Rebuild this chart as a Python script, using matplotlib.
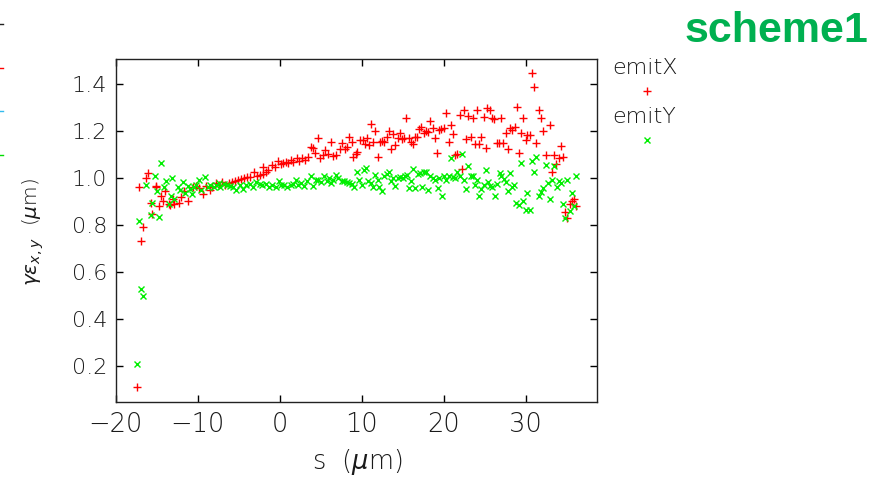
import matplotlib
matplotlib.use("Agg")
import matplotlib.pyplot as plt
from matplotlib.lines import Line2D

# ---- data: emitX (red +) ----
emitx_s = [-17.35, -17.11, -16.91, -16.62, -16.29, -16.05, -15.68, -15.52, -15.11, -15.03,
           -14.66, -14.46, -14.25, -13.93, -13.56, -13.36, -13.03, -12.83, -12.34, -12.05,
           -11.64, -11.23, -10.58, -10.17, -9.89, -9.36, -8.95, -8.54, -8.26, -7.73,
           -7.44, -7.03, -6.62, -6.22, -5.81, -5.40, -5.07, -4.71, -4.30, -3.97,
           -3.56, -3.16, -2.75, -2.42, -2.01, -2.05, -1.69, -1.40, -0.99, -0.63,
           -0.22, 0.11, 0.43, 0.80, 1.01, 1.37, 1.62, 2.07, 2.39, 2.76,
           3.05, 3.45, 3.78, 4.07, 4.35, 4.68, 4.92, 5.33, 5.53, 5.90,
           6.23, 6.55, 6.92, 7.37, 7.66, 7.94, 8.27, 8.47, 8.76, 9.00,
           9.29, 9.49, 9.82, 10.11, 10.39, 10.64, 10.92, 11.13, 11.41, 11.62,
           11.94, 12.27, 12.43, 12.76, 13.04, 13.29, 13.57, 13.78, 14.10, 14.39,
           14.63, 14.88, 15.12, 15.45, 15.74, 16.02, 16.23, 16.51, 16.76, 17.04,
           17.25, 17.57, 17.86, 18.14, 18.39, 18.67, 18.96, 19.20, 19.49, 19.69,
           20.02, 20.31, 20.59, 20.84, 21.12, 21.41, 21.65, 21.94, 22.22, 22.47,
           22.71, 23.00, 23.28, 23.57, 23.77, 24.06, 24.30, 24.59, 24.88, 25.12,
           25.32, 25.61, 25.90, 26.14, 26.47, 26.75, 27.04, 27.28, 27.57, 27.85,
           28.10, 28.38, 28.67, 28.91, 29.16, 29.49, 29.73, 29.98, 30.22, 30.51,
           30.75, 31.04, 31.32, 31.61, 31.85, 32.14, 32.42, 32.95, 33.16, 33.48,
           33.73, 34.01, 34.26, 34.55, 34.79, 35.08, 35.36, 35.61, 35.85, 36.14]
emitx_v = [0.111, 0.961, 0.730, 0.791, 1.000, 1.021, 0.894, 0.847, 0.964, 0.968,
           0.883, 0.925, 0.904, 0.943, 0.891, 0.886, 0.911, 0.891, 0.894, 0.918,
           0.943, 0.904, 0.964, 0.968, 0.957, 0.932, 0.968, 0.950, 0.964, 0.979,
           0.972, 0.982, 0.972, 0.979, 0.982, 0.986, 0.993, 0.996, 1.000, 1.004,
           1.004, 1.025, 1.010, 1.014, 1.018, 1.047, 1.028, 1.035, 1.057, 1.047,
           1.075, 1.061, 1.064, 1.067, 1.064, 1.078, 1.067, 1.084, 1.075, 1.085,
           1.078, 1.092, 1.131, 1.128, 1.109, 1.170, 1.085, 1.099, 1.120, 1.103,
           1.154, 1.095, 1.099, 1.123, 1.149, 1.126, 1.131, 1.175, 1.156, 1.092,
           1.103, 1.113, 1.163, 1.163, 1.146, 1.170, 1.142, 1.231, 1.156, 1.202,
           1.089, 1.156, 1.160, 1.152, 1.177, 1.202, 1.123, 1.188, 1.142, 1.170,
           1.191, 1.166, 1.170, 1.255, 1.170, 1.152, 1.146, 1.175, 1.175, 1.208,
           1.220, 1.194, 1.202, 1.198, 1.244, 1.213, 1.173, 1.106, 1.206, 1.208,
           1.213, 1.276, 1.153, 1.227, 1.188, 1.099, 1.103, 1.269, 1.039, 1.291,
           1.166, 1.265, 1.175, 1.255, 1.145, 1.291, 1.145, 1.177, 1.262, 1.128,
           1.298, 1.291, 1.255, 1.252, 1.149, 1.149, 1.255, 1.149, 1.191, 1.123,
           1.213, 1.206, 1.220, 1.302, 1.109, 1.191, 1.255, 1.163, 1.184, 1.184,
           1.447, 1.387, 1.149, 1.291, 1.255, 1.202, 1.099, 1.227, 1.025, 1.099,
           1.061, 1.085, 1.137, 1.092, 0.855, 0.830, 0.891, 0.901, 0.911, 0.883]

# ---- data: emitY (green x) ----
emity_s = [-17.35, -17.11, -16.91, -16.62, -16.29, -15.72, -15.52, -15.19, -14.99, -14.70,
           -14.46, -14.17, -13.89, -13.56, -13.27, -13.11, -12.87, -12.42, -12.13, -11.81,
           -11.52, -11.23, -10.91, -10.70, -10.50, -10.21, -9.89, -9.60, -9.07, -8.79,
           -8.46, -8.05, -7.73, -7.44, -7.24, -6.83, -6.42, -6.09, -5.69, -5.28,
           -4.87, -4.46, -4.05, -3.65, -3.24, -2.83, -2.46, -2.14, -1.73, -1.32,
           -0.91, -0.50, -0.10, 0.19, 0.52, 0.92, 1.33, 1.66, 1.94, 2.23,
           2.56, 2.96, 3.37, 3.78, 4.11, 4.39, 4.68, 5.09, 5.41, 5.74,
           6.02, 6.31, 6.55, 6.84, 7.13, 7.54, 7.86, 8.19, 8.47, 8.76,
           9.09, 9.41, 9.70, 9.98, 10.31, 10.51, 10.80, 11.13, 11.41, 11.66,
           11.94, 12.15, 12.43, 12.76, 13.04, 13.29, 13.57, 13.78, 14.06, 14.39,
           14.68, 15.00, 15.29, 15.53, 15.74, 16.02, 16.27, 16.51, 16.84, 17.16,
           17.33, 17.57, 17.86, 18.14, 18.39, 18.67, 18.96, 19.29, 19.49, 19.78,
           20.02, 20.31, 20.59, 20.84, 21.12, 21.41, 21.65, 21.94, 22.22, 22.47,
           22.71, 23.00, 23.28, 23.57, 23.86, 24.10, 24.35, 24.59, 24.88, 25.12,
           25.41, 25.65, 25.90, 26.22, 26.51, 26.83, 27.04, 27.32, 27.57, 27.85,
           28.10, 28.34, 28.59, 28.87, 29.16, 29.45, 29.69, 29.98, 30.22, 30.51,
           30.79, 31.04, 31.32, 31.61, 31.85, 32.10, 32.42, 32.67, 32.95, 33.24,
           33.48, 33.77, 34.01, 34.30, 34.55, 34.79, 35.08, 35.36, 35.61, 35.89,
           36.14]
emity_v = [0.206, 0.817, 0.527, 0.499, 0.972, 0.841, 0.896, 1.010, 0.943, 0.834,
           1.064, 0.964, 0.986, 0.891, 0.922, 1.000, 0.911, 0.961, 0.950, 0.982,
           0.936, 0.968, 0.954, 0.932, 0.961, 0.972, 0.990, 0.950, 1.004, 0.964,
           0.972, 0.961, 0.972, 0.979, 0.964, 0.975, 0.972, 0.968, 0.964, 0.950,
           0.972, 0.954, 0.972, 0.975, 0.964, 0.982, 0.975, 0.972, 0.975, 0.964,
           0.972, 0.964, 0.986, 0.972, 0.972, 0.964, 0.972, 0.975, 0.993, 0.972,
           0.979, 0.968, 0.986, 1.010, 0.968, 0.990, 0.993, 0.982, 1.007, 0.986,
           1.000, 0.979, 0.993, 1.014, 1.000, 0.986, 0.986, 0.982, 0.979, 0.975,
           0.961, 1.025, 0.993, 0.972, 1.033, 1.042, 0.986, 0.979, 0.961, 1.014,
           0.993, 0.961, 0.943, 1.010, 1.018, 1.028, 0.986, 1.000, 0.968, 1.000,
           1.004, 1.000, 1.007, 1.014, 0.957, 0.986, 1.039, 0.957, 1.018, 1.021,
           0.964, 1.028, 1.025, 0.950, 1.007, 1.000, 0.990, 0.957, 1.000, 0.925,
           1.007, 0.990, 1.007, 1.085, 1.004, 1.000, 1.025, 1.010, 1.102, 0.993,
           0.954, 1.052, 1.010, 1.007, 0.972, 0.993, 0.922, 0.954, 0.972, 1.035,
           0.982, 0.968, 0.964, 0.922, 0.975, 1.021, 1.010, 0.996, 0.982, 0.943,
           1.021, 0.964, 0.972, 0.894, 0.886, 1.064, 0.901, 0.866, 0.936, 0.866,
           1.071, 1.025, 1.092, 0.922, 0.939, 0.957, 1.057, 0.979, 0.911, 0.990,
           1.050, 0.961, 0.986, 0.979, 0.891, 0.830, 0.990, 0.858, 0.936, 0.879,
           1.007]

xticks = [-20, -10, 0, 10, 20, 30]
yticks = [0.2, 0.4, 0.6, 0.8, 1.0, 1.2, 1.4]
ytick_labels = ["0.2", "0.4", "0.6", "0.8", "1.0", "1.2", "1.4"]
series_names = ["emitX", "emitY"]
title_text = "scheme1"

plt.rcParams["font.family"] = ["DejaVu Sans"]
plt.rcParams["mathtext.fontset"] = "dejavusans"

TXT = "#1a1a1a"
LIGHT = 200
W, H = 887, 478
fig = plt.figure(figsize=(W / 100, H / 100), dpi=100)
fig.patch.set_facecolor("white")

ax = fig.add_axes([115.7 / W, 1 - 402.3 / H, (597 - 115.7) / W, (402.3 - 59) / H])
ax.plot(emitx_s, emitx_v, linestyle="none", marker="+", ms=5.5, mew=1.0, color="#ff0000")
ax.plot(emity_s, emity_v, linestyle="none", marker="x", ms=4.5, mew=1.0, color="#00ee00")

ax.set_xlim(-20, 38.7)
ax.set_ylim(0.044, 1.508)
ax.set_xticks(xticks)
ax.set_yticks(yticks)
ax.set_yticklabels(ytick_labels)
ax.tick_params(direction="in", length=5, width=1.0, top=True, right=True, color="black")
ax.tick_params(axis="x", labelsize=18.5, pad=7)
ax.tick_params(axis="y", labelsize=16, pad=6)
for sp in ax.spines.values():
    sp.set_linewidth(1.0)
    sp.set_color("#222222")
for lab in ax.get_xticklabels() + ax.get_yticklabels():
    lab.set_color(TXT)
    lab.set_fontweight(LIGHT)

fig.text(357 / W, 1 - 462 / H, r"s  ($\mu$m)", ha="center", va="center", fontsize=18.5,
         color=TXT, fontweight=LIGHT)
fig.text(33 / W, 1 - 232 / H, r"$\gamma\varepsilon_{x,y}$  ($\mu$m)", ha="center", va="center",
         rotation=90, fontsize=14.5, color=TXT, fontweight=LIGHT)

# legend (label above marker)
fig.text(612 / W, 1 - 68 / H, series_names[0], ha="left", va="center", fontsize=16,
         color=TXT, fontweight=LIGHT)
fig.text(612 / W, 1 - 117 / H, series_names[1], ha="left", va="center", fontsize=16,
         color=TXT, fontweight=LIGHT)
fig.add_artist(Line2D([647 / W], [1 - 91 / H], transform=fig.transFigure, linestyle="none",
                      marker="+", ms=5.5, mew=1.0, color="#ff0000"))
fig.add_artist(Line2D([647 / W], [1 - 140 / H], transform=fig.transFigure, linestyle="none",
                      marker="x", ms=4.5, mew=1.0, color="#00ee00"))

fig.text(868 / W, 1 - 42 / H, title_text, ha="right", va="baseline", fontsize=31,
         fontweight="bold", family="Liberation Sans", color="#00b050")

# small edge marks on the left border
for yy, cc in [(24, "#222222"), (68, "#ff0000"), (111, "#33bbee"), (155, "#00dd00")]:
    fig.add_artist(Line2D([0, 3 / W], [1 - yy / H, 1 - yy / H], transform=fig.transFigure,
                          color=cc, lw=1.0))

fig.savefig("out.png", dpi=100)
